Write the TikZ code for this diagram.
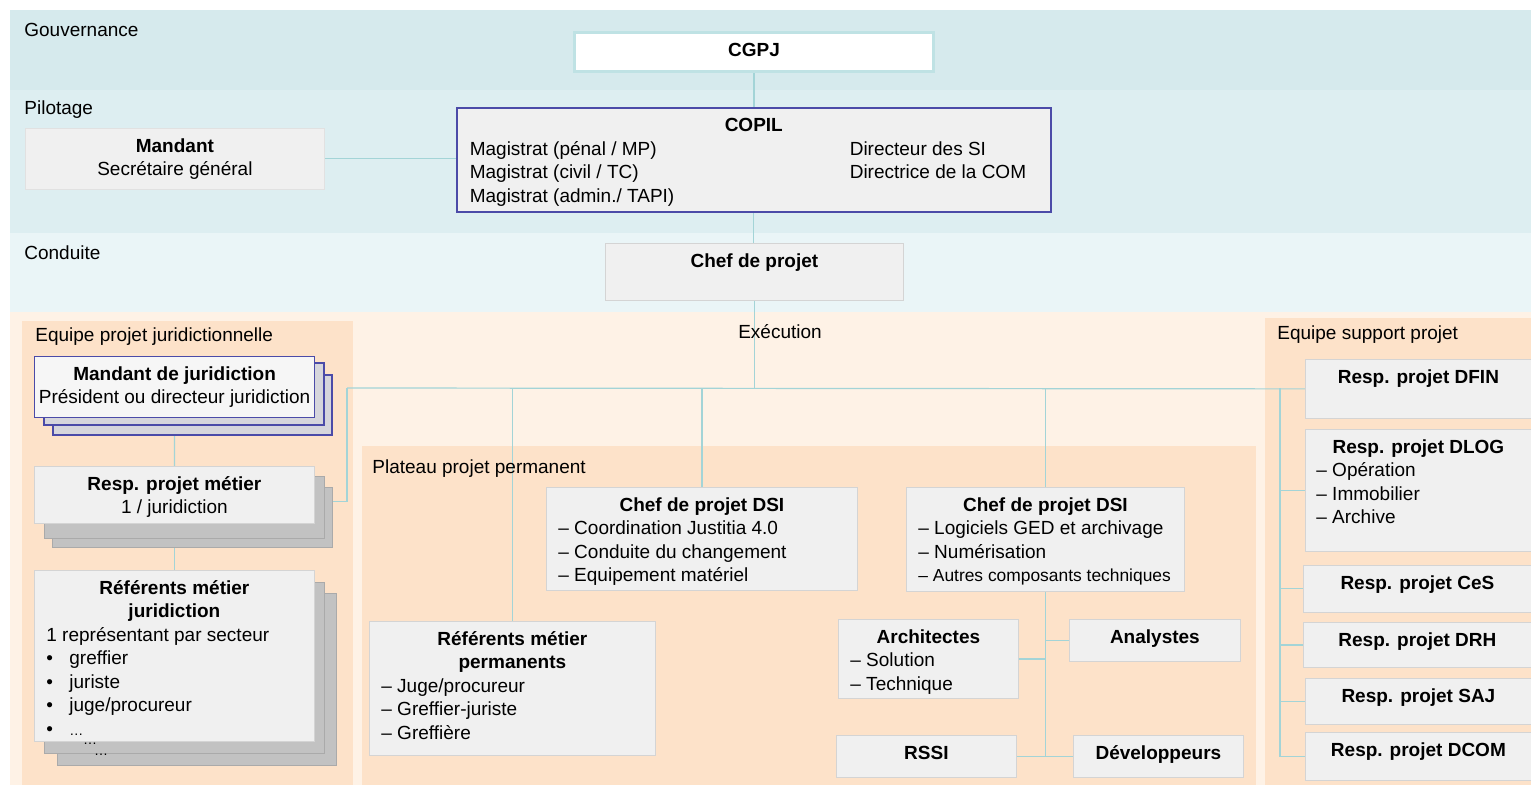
\documentclass[tikz,border=0pt]{standalone}
\usepackage{fontspec}
\setmainfont{Liberation Sans}
\usetikzlibrary{positioning}

\definecolor{gouv}{HTML}{D6EAED}
\definecolor{pilot}{HTML}{DDEEF1}
\definecolor{cond}{HTML}{EAF5F7}
\definecolor{exec}{HTML}{FEF2E6}
\definecolor{panneau}{HTML}{FDE2C9}
\definecolor{boite}{HTML}{F0F0F0}
\definecolor{bord}{HTML}{D4D4D4}
\definecolor{bleu}{HTML}{4B4BA8}
\definecolor{lienc}{HTML}{A3D4D7}
\definecolor{cgpjc}{HTML}{BFE2E4}
\definecolor{ombre}{HTML}{C2C2C2}
\definecolor{ombreb}{HTML}{D6D6DC}

\pgfdeclarelayer{fond}
\pgfdeclarelayer{liens}
\pgfsetlayers{fond,liens,main}

% box content: width, height, text (top aligned)
\newcommand{\cadre}[3]{\begin{minipage}[c][#2][t]{#1}\vspace*{3.7pt}#3\end{minipage}}
\newcommand{\titre}[1]{{\centering\strut\textbf{#1}\par}}
\newcommand{\liste}{\raggedright\leftskip=6pt\relax}

\tikzset{
  box/.style={fill=boite, draw=bord, line width=0.4pt, inner sep=0pt, anchor=north west},
  lien/.style={draw=lienc, line width=0.6pt},
  bande/.style={anchor=west, inner sep=0pt}
}

\begin{document}
\begin{tikzpicture}[x=0.5pt, y=-0.5pt, font=\fontsize{9.5}{11.75}\selectfont]
\useasboundingbox (0,0) rectangle (1531,785);

\begin{pgfonlayer}{fond}
\fill[gouv] (10,10) rectangle (1531,90);
\fill[pilot] (10,90) rectangle (1531,233);
\fill[cond] (10,233) rectangle (1531,312);
\fill[exec] (10,312) rectangle (1531,785);
\begin{scope}[panneau]
\fill (22,321) rectangle (353,785);
\fill (362,446) rectangle (1256,785);
\fill (1265,318) rectangle (1531,785);
\end{scope}
\end{pgfonlayer}

\node[bande] (lgouv) at (24,30) {Gouvernance};
\node[bande] (lpilot) at (24,110) {Pilotage};
\node[bande] (lcond) at (24,253) {Conduite};
\node (lexec) at (780,332) {Exécution};
\node[bande] (ljur) at (35,337) {Equipe projet juridictionnelle};
\node[bande] (lplat) at (372,469) {Plateau projet permanent};
\node[bande] (lsupp) at (1277,335) {Equipe support projet};

% gouvernance / pilotage / conduite
\node[box, fill=white, draw=cgpjc, line width=1.5pt] (cgpj) at (573,31)
  {\cadre{179.5pt}{19.5pt}{\titre{CGPJ}}};
\node[box, draw=bleu, line width=0.8pt] (copil) at (456,107)
  {\cadre{297pt}{52pt}{\titre{COPIL}\leftskip=6.5pt
   \begin{tabular}[t]{@{}p{190pt}@{}l@{}}
   Magistrat (pénal / MP) & Directeur des SI\\
   Magistrat (civil / TC) & Directrice de la COM\\
   Magistrat (admin./ TAPI) &
   \end{tabular}}};
\node[box, draw=bord!70] (mandant) at (25,128)
  {\cadre{149.5pt}{30.5pt}{\titre{Mandant}{\centering Secrétaire général\par}}};
\node[box] (chef) at (605,243)
  {\cadre{149pt}{28.5pt}{\titre{Chef de projet}}};

% equipe projet juridictionnelle
\begin{scope}[draw=bleu, fill=ombreb, line width=0.6pt]
\filldraw (53,375) rectangle (332,435);
\filldraw (44,363) rectangle (324,425);
\end{scope}
\node[box, fill=boite!60!white, draw=bleu, line width=0.6pt] (mjA) at (34,356)
  {\cadre{140pt}{30.5pt}{\titre{Mandant de juridiction}{\centering Président ou directeur juridiction\par}}};

\begin{scope}[draw=bord!80!black, fill=ombre, line width=0.4pt]
\filldraw (52,487) rectangle (332,547);
\filldraw (44,476) rectangle (324,538);
\end{scope}
\node[box] (respA) at (34,466)
  {\cadre{140pt}{28.5pt}{\titre{Resp. projet métier}{\centering 1 / juridiction\par}}};

\begin{scope}[draw=bord!80!black, fill=ombre, line width=0.4pt]
\filldraw (57,593) rectangle (336,765);
\filldraw (44,582) rectangle (324,753);
\end{scope}
\node[font=\fontsize{7}{8}\selectfont] (pts3) at (101,755) {\dots};
\node[font=\fontsize{7}{8}\selectfont] (pts2) at (90,744) {\dots};
\node[box] (refA) at (34,570)
  {\cadre{140pt}{85.5pt}{\titre{Référents métier\\juridiction}\liste
   1 représentant par secteur\\
   \makebox[11.5pt][l]{•}greffier\\
   \makebox[11.5pt][l]{•}juriste\\
   \makebox[11.5pt][l]{•}juge/procureur\\
   \makebox[11.5pt][l]{•}{\fontsize{7}{8}\selectfont\dots}}};

% plateau projet permanent
\node[box] (dsiA) at (546,487)
  {\cadre{155.5pt}{51.5pt}{\titre{Chef de projet DSI}\liste
   – Coordination Justitia 4.0\\
   – Conduite du changement\\
   – Equipement matériel}};
\node[box] (dsiB) at (906,487)
  {\cadre{139pt}{52pt}{\titre{Chef de projet DSI}\liste
   – Logiciels GED et archivage\\
   – Numérisation\\
   {\fontsize{8.7}{11.75}\selectfont – Autres composants techniques}}};
\node[box] (refP) at (369,621)
  {\cadre{143pt}{67pt}{\titre{Référents métier\\permanents}\liste
   – Juge/procureur\\
   – Greffier-juriste\\
   – Greffière}};
\node[box] (archi) at (838,619)
  {\cadre{90pt}{39.5pt}{\titre{Architectes}\liste
   – Solution\\
   – Technique}};
\node[box] (analy) at (1069,619) {\cadre{85.5pt}{21pt}{\titre{Analystes}}};
\node[box] (rssi) at (836,735) {\cadre{90pt}{21pt}{\titre{RSSI}}};
\node[box] (dev) at (1073,735) {\cadre{85pt}{21pt}{\titre{Développeurs}}};

% equipe support projet
\node[box] (dfin) at (1305,359) {\cadre{113pt}{29.5pt}{\titre{Resp. projet DFIN}}};
\node[box] (dlog) at (1305,429)
  {\cadre{113pt}{61pt}{\titre{Resp. projet DLOG}\raggedright\leftskip=5.5pt
   – Opération\\
   – Immobilier\\
   – Archive}};
\node[box] (ces) at (1303,565) {\cadre{114pt}{23.5pt}{\titre{Resp. projet CeS}}};
\node[box] (drh) at (1303,622) {\cadre{114pt}{22.5pt}{\titre{Resp. projet DRH}}};
\node[box] (saj) at (1305,678) {\cadre{113pt}{23pt}{\titre{Resp. projet SAJ}}};
\node[box] (dcom) at (1305,732) {\cadre{113pt}{24pt}{\titre{Resp. projet DCOM}}};

\coordinate (busG) at (347,388);
\coordinate (rail) at (1280,388);

\begin{pgfonlayer}{liens}
\draw[lien] (cgpj.south) -- (cgpj.south |- copil.north);
\draw[lien] (mandant.east) -- (mandant.east -| copil.west);
\draw[lien] (copil.south) -- (copil.south |- chef.north);
\draw[lien] (chef.south) -- (chef.south |- busG);
\draw[lien] (busG) -- (dfin.west);
\draw[lien] ([yshift=-3.5pt]respA.east) -| (busG);
\draw[lien] (mjA.south) -- (respA.north);
\draw[lien] (respA.south) -- (refA.north);
\draw[lien] (refP.north) -- (refP.north |- busG);
\draw[lien] (dsiA.north) -- (dsiA.north |- busG);
\draw[lien] (dsiB.north) -- (dsiB.north |- busG);
\draw[lien] (dsiB.south) -- (dsiB.south |- dev.west);
\foreach \b in {archi,rssi}
  \draw[lien] (\b.east) -- (\b.east -| dsiB.south);
\foreach \b in {analy,dev}
  \draw[lien] (\b.west) -- (\b.west -| dsiB.south);
\draw[lien] (rail) |- (dcom.west);
\foreach \b in {dlog,ces,drh,saj}
  \draw[lien] (\b.west) -- (\b.west -| rail);
\end{pgfonlayer}
\end{tikzpicture}
\end{document}
